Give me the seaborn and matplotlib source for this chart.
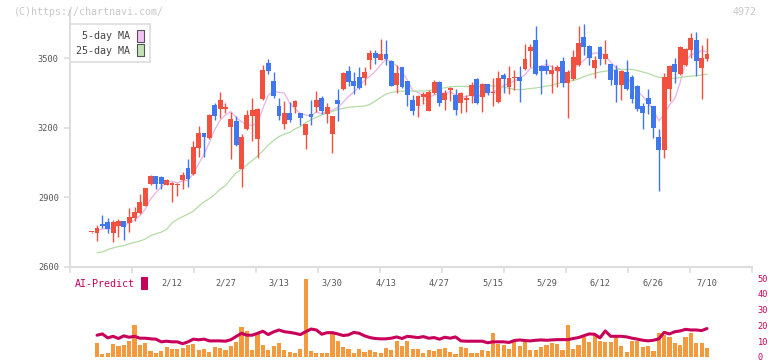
import numpy as np
import pandas as pd
import matplotlib
matplotlib.use("Agg")
import matplotlib.pyplot as plt
import seaborn as sns
from matplotlib.patches import Patch

nan = np.nan

# ---------------- data ----------------
opens = [2749, 2748, 2787, 2792, 2748, 2778, 2797, 2791, 2812, 2833,
         2864, 2957, 2992, 2988, 2955, 2955, 2953, 2975, 3026, 3000,
         3114, 3177, 3154, 3298, 3282, 3282, 3204, 3229, 3023, 3194,
         3250, 3153, 3324, 3479, 3401, 3293, 3217, 3265, 3288, 3262,
         3170, 3259, 3289, 3328, 3258, 3174, 3319, 3365, 3444, 3401,
         3418, 3414, 3492, 3522, 3492, 3517, 3487, 3384, 3461, 3401,
         3319, 3293, 3334, 3273, 3351, 3397, 3319, 3362, 3341, 3308,
         3319, 3338, 3410, 3334, 3388, 3348, 3312, 3427, 3377, 3413,
         3418, 3453, 3532, 3578, 3466, 3466, 3431, 3444, 3487, 3394,
         3410, 3470, 3591, 3552, 3459, 3548, 3497, 3474, 3448, 3384,
         3440, 3418, 3380, 3293, 3328, 3293, 3160, 3104, 3367, 3474,
         3431, 3470, 3536, 3578, 3459, 3497]
highs = [2752, 2781, 2825, 2812, 2802, 2805, 2799, 2853, 2860, 2914,
         2942, 2995, 2994, 2990, 2978, 2967, 2961, 3011, 3067, 3141,
         3207, 3179, 3257, 3305, 3354, 3305, 3269, 3250, 3173, 3276,
         3327, 3285, 3469, 3496, 3440, 3326, 3315, 3311, 3320, 3265,
         3218, 3319, 3358, 3337, 3308, 3252, 3365, 3440, 3466, 3440,
         3461, 3461, 3535, 3535, 3582, 3578, 3492, 3470, 3463, 3403,
         3341, 3340, 3355, 3362, 3405, 3401, 3362, 3374, 3365, 3355,
         3341, 3398, 3412, 3394, 3390, 3414, 3444, 3436, 3466, 3448,
         3466, 3562, 3562, 3638, 3470, 3496, 3470, 3470, 3504, 3448,
         3535, 3638, 3647, 3556, 3509, 3552, 3578, 3476, 3470, 3446,
         3492, 3427, 3382, 3305, 3367, 3295, 3194, 3436, 3470, 3500,
         3552, 3542, 3608, 3612, 3556, 3586]
lows = [2746, 2713, 2768, 2746, 2709, 2731, 2715, 2752, 2800, 2828,
        2862, 2955, 2934, 2934, 2952, 2881, 2906, 2934, 2943, 2998,
        3072, 3072, 3150, 3235, 3243, 3263, 3065, 3120, 2946, 3190,
        3144, 3071, 3319, 3430, 3326, 3233, 3194, 3226, 3265, 3212,
        3107, 3212, 3269, 3259, 3222, 3093, 3230, 3361, 3380, 3345,
        3365, 3384, 3453, 3476, 3490, 3470, 3378, 3348, 3370, 3295,
        3253, 3248, 3302, 3270, 3345, 3294, 3276, 3315, 3255, 3265,
        3268, 3308, 3300, 3268, 3340, 3293, 3308, 3348, 3347, 3362,
        3312, 3450, 3461, 3429, 3347, 3431, 3350, 3377, 3375, 3243,
        3405, 3465, 3513, 3470, 3414, 3470, 3474, 3384, 3311, 3319,
        3362, 3305, 3272, 3194, 3258, 3157, 2927, 3068, 3315, 3392,
        3425, 3465, 3499, 3423, 3324, 3489]
closes = [2749, 2768, 2775, 2764, 2792, 2797, 2774, 2817, 2835, 2878,
          2940, 2992, 2956, 2959, 2975, 2963, 2959, 2996, 2978, 3117,
          3176, 3161, 3254, 3252, 3318, 3288, 3237, 3125, 3160, 3255,
          3276, 3280, 3448, 3443, 3338, 3252, 3265, 3235, 3315, 3243,
          3216, 3246, 3319, 3273, 3289, 3250, 3303, 3436, 3397, 3380,
          3370, 3440, 3522, 3502, 3517, 3496, 3380, 3436, 3375, 3339,
          3272, 3337, 3345, 3352, 3397, 3308, 3348, 3372, 3276, 3349,
          3329, 3382, 3305, 3388, 3348, 3354, 3414, 3411, 3414, 3418,
          3403, 3497, 3548, 3431, 3444, 3444, 3448, 3461, 3394, 3440,
          3504, 3565, 3548, 3502, 3492, 3497, 3517, 3405, 3384, 3444,
          3367, 3324, 3280, 3263, 3302, 3200, 3104, 3418, 3466, 3440,
          3548, 3539, 3586, 3487, 3500, 3517]
ma25 = [nan, 2662, 2665, 2675, 2682, 2688, 2692, 2700, 2706, 2712,
        2720, 2735, 2743, 2750, 2762, 2790, 2805, 2817, 2828, 2840,
        2862, 2880, 2895, 2912, 2935, 2950, 2980, 3005, 3022, 3040,
        3058, 3078, 3100, 3125, 3145, 3162, 3172, 3180, 3195, 3205,
        3222, 3235, 3245, 3255, 3262, 3270, 3278, 3283, 3288, 3290,
        3292, 3293, 3300, 3315, 3330, 3345, 3352, 3356, 3358, 3358,
        3358, 3358, 3358, 3360, 3363, 3368, 3372, 3376, 3378, 3378,
        3378, 3377, 3378, 3379, 3380, 3380, 3378, 3375, 3370, 3365,
        3364, 3366, 3369, 3371, 3375, 3379, 3383, 3390, 3395, 3400,
        3403, 3410, 3420, 3428, 3434, 3440, 3443, 3447, 3450, 3451,
        3451, 3451, 3446, 3440, 3434, 3425, 3417, 3414, 3413, 3413,
        3416, 3420, 3422, 3424, 3427, 3431]
volume = [nan, 8.75, 1.9, 2.5, 8.1, 6.9, 7.7, 10, 20, 7.5,
          8.75, 3.75, 2.5, 3.75, 6.25, 5, 5, 5.6, 7.5, 8.1,
          4.4, 5, 3.1, 6.25, 5.6, 4.4, 6.9, 9.4, 18.75, 16.25,
          4.4, 14.4, 7.5, 4.4, 6.9, 8.75, 4.4, 3.1, 2.5, 5,
          49.4, 3.75, 2.5, 2.5, 2.5, 14.4, 10, 6.25, 5, 2.5,
          5, 3.1, 4.4, 3.1, 2.5, 5.6, 4.4, 10, 6.9, 10,
          5, 5, 2.5, 4.4, 3.75, 5, 5.6, 3.1, 1.9, 6.25,
          5.6, 2.5, 2.5, 4.4, 3.75, 15, 8.1, 7.5, 5, 9.4,
          6.9, 9.4, 4.4, 4.4, 6.25, 7.5, 8.75, 8.1, 4.4, 20,
          5, 7.5, 12.5, 9.4, 13.75, 10, 9.4, 9.4, 12.5, 6.9,
          3.1, 10, 10, 6.25, 6.9, 3.75, 15, 13.75, 12.5, 8.75,
          7.5, 12.5, 15, 8.75, 8.75, 5.6]
ai_predict = [nan, 13.8, 14.6, 12.1, 13.1, 11.7, 13.4, 12.5, 13.1, 11.9,
              11.9, 11.5, 11.3, 9.6, 10, 9.6, 9.6, 8.4, 9.6, 11.3,
              10.9, 11.3, 10.2, 10.2, 10.2, 10, 10.9, 13, 15, 13.8,
              13.8, 15, 16.3, 14.2, 15.9, 17.1, 16, 15.6, 15, 14.2,
              16, 17.7, 17.1, 14.4, 15.4, 15.4, 14.6, 13.6, 14, 15.6,
              15, 13.4, 12.3, 11.7, 11.5, 11.5, 11.9, 12.7, 11.7, 13.1,
              12.7, 12.3, 12.9, 11.9, 12.3, 11.25, 12.5, 11.9, 12.7, 10.2,
              10, 10, 10, 10, 9, 9.6, 9.6, 9.6, 9.2, 10.4,
              10.8, 10.4, 10.2, 10.6, 10.8, 10.6, 10.8, 11, 11, 11,
              11.7, 12.3, 13.5, 14.6, 14.4, 12.1, 16.5, 13.1, 13.1, 13.1,
              12.7, 11.9, 11.3, 10.6, 10.2, 10.6, 11.5, 15.6, 14.6, 16,
              16.5, 17.5, 17.1, 17.1, 16.7, 18]
date_labels = ["2/12", "2/27", "3/13", "3/30", "4/13", "4/27",
               "5/15", "5/29", "6/12", "6/26", "7/10"]
date_label_idx = [15, 25, 35, 45, 55, 65, 75, 85, 95, 105, 115]
price_ticks = [2600, 2900, 3200, 3500]
ai_ticks = [0, 10, 20, 30, 40, 50]

n = len(closes)
for arr in (opens, highs, lows, ma25, volume, ai_predict):
    assert len(arr) == n, len(arr)

df = pd.DataFrame({"i": np.arange(n), "open": opens, "high": highs, "low": lows,
                   "close": closes, "ma25": ma25, "vol": volume, "ai": ai_predict})
df["ma5"] = df["close"].rolling(5, min_periods=1).mean()
df.loc[0, "ma5"] = nan

# ---------------- style ----------------
sns.set_theme(style="white")
plt.rcParams["font.family"] = ["DejaVu Sans Mono", "DejaVu Sans"]

RED = "#f2513f"
BLUE = "#3f77ee"
PINK = "#e9b2ea"
GREEN = "#b4dca4"
ORANGE = "#f39a3f"
CRIMSON = "#c8005a"
GRID = "#dddddd"
TXT = "#555555"

W, H = 772, 361
fig = plt.figure(figsize=(W / 100, H / 100), dpi=100)
fig.patch.set_facecolor("white")


def px_axes(x0, y0, x1, y1):
    return fig.add_axes([x0 / W, 1 - y1 / H, (x1 - x0) / W, (y1 - y0) / H])


ax = px_axes(70, 10, 752, 267)
ax2 = px_axes(70, 278, 752, 357)
xmin, xmax = (70 - 91.7) / 5.35, (752 - 91.7) / 5.35

# ---------------- candles ----------------
up = df["close"] >= df["open"]
cols = np.where(up, RED, BLUE)
ax.vlines(df["i"], df["low"], df["high"], colors=cols, linewidth=1.0, zorder=3)
body_lo = np.minimum(df["open"], df["close"])
body_h = np.maximum((df["close"] - df["open"]).abs(), 4)
ax.bar(df["i"], body_h, bottom=body_lo, width=0.9, color=cols, linewidth=0, zorder=4)

sns.lineplot(data=df, x="i", y="ma5", color=PINK, linewidth=0.9, ax=ax, zorder=2)
sns.lineplot(data=df, x="i", y="ma25", color=GREEN, linewidth=0.9, ax=ax, zorder=2)

ax.set_xlim(xmin, xmax)
ax.set_ylim(2600, 3707)
ax.set_xlabel("")
ax.set_ylabel("")
for s in ("top", "right"):
    ax.spines[s].set_visible(False)
for s in ("left", "bottom"):
    ax.spines[s].set_color(GRID)
    ax.spines[s].set_linewidth(1.4)
ax.set_yticks(price_ticks)
ax.set_yticklabels([str(t) for t in price_ticks])
ax.tick_params(axis="y", length=4, width=1.2, color=GRID, labelsize=6.2,
               labelcolor=TXT, pad=4, direction="out", left=True)
ax.set_xticks(date_label_idx)
ax.set_xticklabels(date_labels)
ax.tick_params(axis="x", which="major", length=0, pad=8.3, labelsize=6.2, labelcolor=TXT)
ax.set_xticks(np.linspace(xmin, xmax, 12), minor=True)
ax.tick_params(axis="x", which="minor", length=4.3, width=1.2, color=GRID,
               direction="out", bottom=True)

leg = ax.legend(handles=[Patch(facecolor="#f2c2f2", edgecolor="#555555", linewidth=0.8),
                         Patch(facecolor="#c2e2b4", edgecolor="#555555", linewidth=0.8)],
                labels=["5-day MA", "25-day MA"], markerfirst=False,
                loc="upper left", bbox_to_anchor=(70 / W, 1 - 24 / H),
                bbox_transform=fig.transFigure, borderaxespad=0,
                prop={"size": 7.2}, handlelength=0.7, handleheight=1.5,
                handletextpad=0.65, labelspacing=0.2, borderpad=0.6,
                fancybox=False, framealpha=1, edgecolor=GRID)
leg.get_frame().set_linewidth(1.2)
for t in leg.get_texts():
    t.set_color("#444444")

# ---------------- AI-Predict panel ----------------
ax2.bar(df["i"], df["vol"], width=0.78, color=ORANGE, linewidth=0, zorder=2)
sns.lineplot(data=df, x="i", y="ai", color=CRIMSON, linewidth=2.2, ax=ax2, zorder=3)
ax2.set_xlim(xmin, xmax)
ax2.set_ylim(0, 50)
ax2.set_xlabel("")
ax2.set_ylabel("")
for s in ax2.spines.values():
    s.set_visible(False)
ax2.set_xticks([])
ax2.yaxis.tick_right()
ax2.set_yticks(ai_ticks)
ax2.set_yticklabels([str(t) for t in ai_ticks])
ax2.tick_params(axis="y", length=0, pad=4, labelsize=6.2, labelcolor=CRIMSON)
ax2.patch.set_alpha(0)

leg2 = ax2.legend(handles=[Patch(facecolor=CRIMSON, edgecolor="none")],
                  labels=["AI-Predict"], markerfirst=False, frameon=False,
                  loc="upper left", bbox_to_anchor=(75 / W, 1 - 277 / H),
                  bbox_transform=fig.transFigure, borderaxespad=0, borderpad=0,
                  prop={"size": 7.2}, handlelength=0.7, handleheight=1.6,
                  handletextpad=0.6)
for t in leg2.get_texts():
    t.set_color(CRIMSON)

# ---------------- header texts ----------------
fig.text(14 / W, 1 - 12 / H, "(C)https://chartnavi.com/", fontsize=7.2,
         color="#c8c8c8", ha="left", va="center")
fig.text(757 / W, 1 - 12 / H, "4972", fontsize=7.2, color="#c8c8c8",
         ha="right", va="center")

fig.savefig("out.png", dpi=100, facecolor="white")
